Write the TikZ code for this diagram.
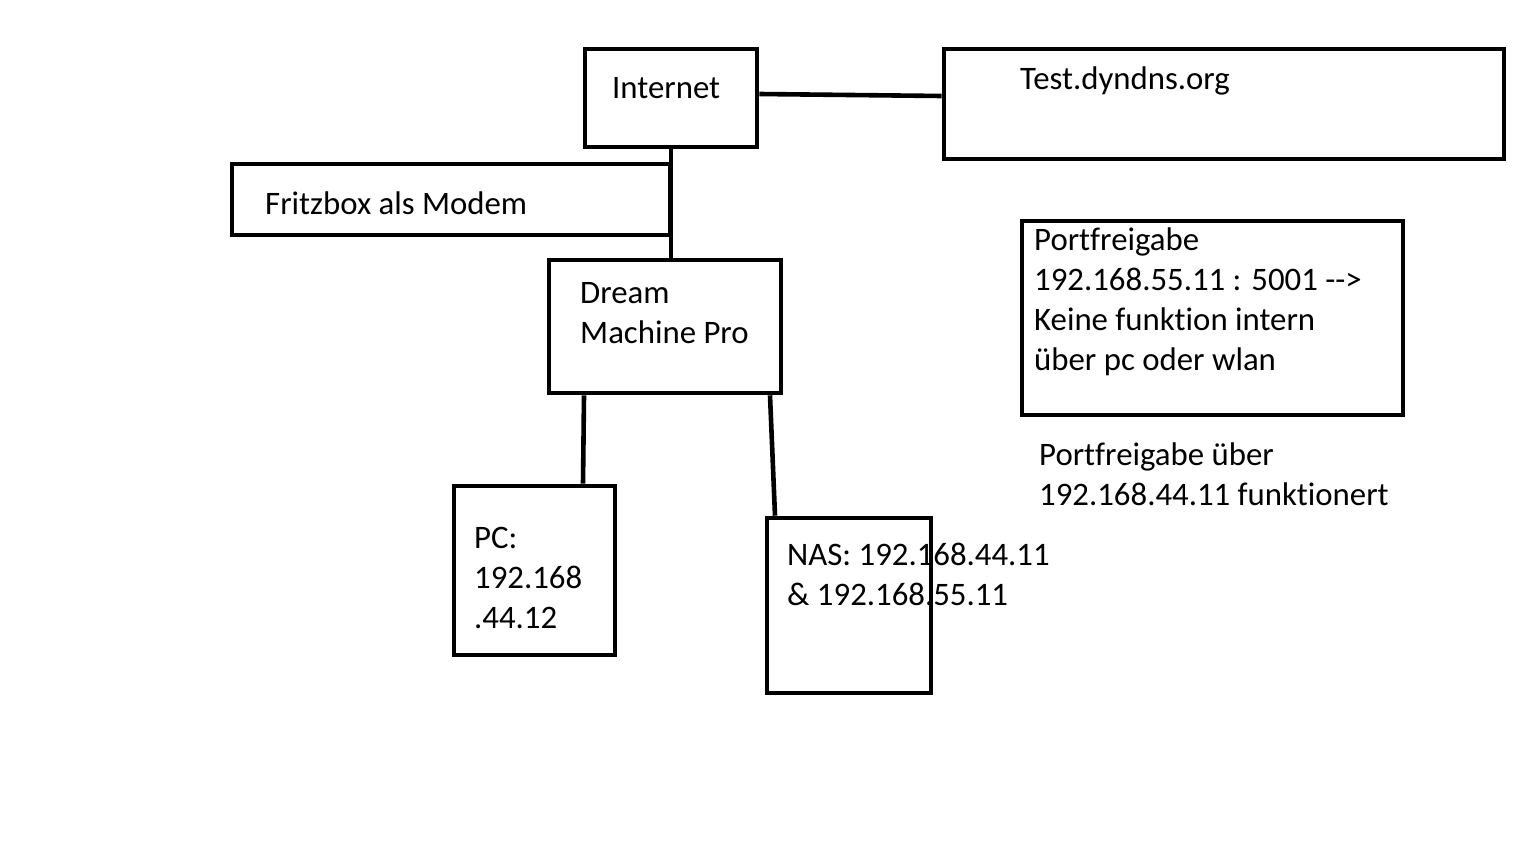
\documentclass[tikz,border=0pt]{standalone}
\usepackage{fontspec}
\setmainfont{Carlito}[Ligatures={TeX,NoCommon}]
\begin{document}
\begin{tikzpicture}[x=1pt,y=-1pt,
  box/.style={draw, line width=4.6pt, inner sep=0pt, minimum width=#1},
  lbl/.style={anchor=base west, inner sep=0pt, font=\fontsize{32.8}{40}\selectfont},
  wire/.style={line width=4.6pt}]
\useasboundingbox (0,0) rectangle (1536,864);
% boxes
\node[box=172pt, minimum height=98pt] (internet) at (671,98) {};
\node[box=560pt, minimum height=110pt] (dyndns) at (1224,104) {};
\node[box=438pt, minimum height=71pt] (fritz) at (451,199.5) {};
\node[box=232pt, minimum height=133pt] (dmp) at (665,326.5) {};
\node[box=381pt, minimum height=194pt] (port) at (1212.5,318) {};
\node[box=161pt, minimum height=169pt] (pc) at (534.5,570.5) {};
\node[box=164pt, minimum height=175pt] (nas) at (849,605.5) {};
% texts
\node[lbl] (tinternet) at (612,99) {Internet};
\node[lbl] (tdyndns) at (1020,90) {Test.dyndns.org};
\node[lbl] (tfritz) at (265,214) {Fritzbox als Modem};
\node[lbl] (tdmp1) at (580,303) {Dream};
\node[lbl] (tdmp2) at (580,343) {Machine Pro};
\node[lbl] (tport1) at (1034,250) {Portfreigabe};
\node[lbl] (tport2) at (1034,290) {192.168.55.11 : 5001 -{}->};
\node[lbl] (tport3) at (1034,330) {Keine funktion intern};
\node[lbl] (tport4) at (1034,370) {über pc oder wlan};
\node[lbl] (tfree1) at (1039,465) {Portfreigabe über};
\node[lbl] (tfree2) at (1039,505) {192.168.44.11 funktionert};
\node[lbl] (tpc1) at (474,548) {PC:};
\node[lbl] (tpc2) at (474,588) {192.168};
\node[lbl] (tpc3) at (474,628) {.44.12};
\node[lbl] (tnas1) at (787,565) {NAS: 192.168.44.11};
\node[lbl] (tnas2) at (787,605) {\& 192.168.55.11};
% connectors
\draw[wire] (internet.east |- 0,94) -- (dyndns.west |- 0,96);
\draw[wire] (internet.south -| 671,0) -- (dmp.north -| 671,0);
\draw[wire] (dmp.south -| 584,0) -- (pc.north -| 583,0);
\draw[wire] (dmp.south -| 770,0) -- (nas.north -| 775,0);
\end{tikzpicture}
\end{document}
